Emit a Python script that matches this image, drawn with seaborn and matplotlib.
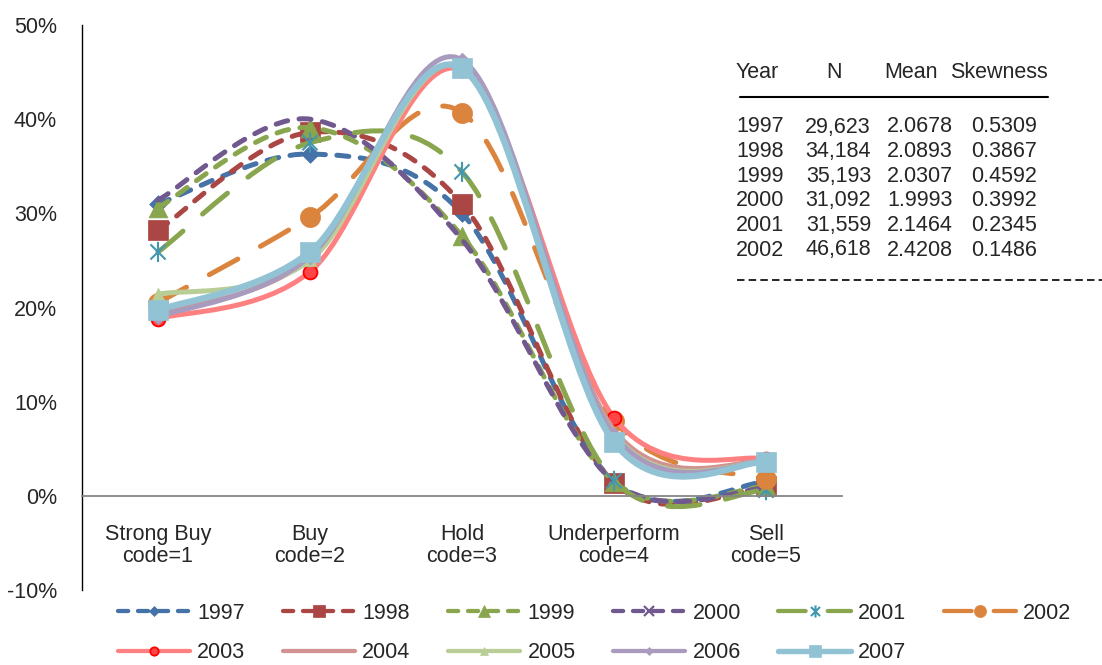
import numpy as np
import pandas as pd
import matplotlib.pyplot as plt
import seaborn as sns
from matplotlib.path import Path
from matplotlib.patches import PathPatch
from matplotlib.lines import Line2D

# categories on the x axis
categories = ["Strong Buy\ncode=1", "Buy\ncode=2", "Hold\ncode=3",
              "Underperform\ncode=4", "Sell\ncode=5"]

# share of recommendations per year (%)
years = ["1997", "1998", "1999", "2000", "2001", "2002",
         "2003", "2004", "2005", "2006", "2007"]
v1997 = [31.0, 36.3, 30.0, 1.5, 1.5]
v1998 = [28.2, 38.6, 31.0, 1.4, 1.0]
v1999 = [30.6, 39.1, 27.6, 1.5, 1.0]
v2000 = [31.4, 40.0, 27.2, 1.5, 0.8]
v2001 = [25.9, 37.5, 34.4, 1.6, 0.6]
v2002 = [20.5, 29.6, 40.7, 8.0, 1.8]
v2003 = [18.8, 23.8, 45.2, 8.3, 3.9]
v2004 = [19.3, 25.2, 45.4, 7.0, 3.6]
v2005 = [21.4, 25.0, 45.5, 6.6, 3.5]
v2006 = [19.0, 25.4, 46.3, 6.5, 3.5]
v2007 = [19.7, 25.9, 45.4, 5.7, 3.6]
values = [v1997, v1998, v1999, v2000, v2001, v2002,
          v2003, v2004, v2005, v2006, v2007]

# summary table (text box)
tab_years = ["1997", "1998", "1999", "2000", "2001", "2002"]
tab_n = ["29,623", "34,184", "35,193", "31,092", "31,559", "46,618"]
tab_mean = ["2.0678", "2.0893", "2.0307", "1.9993", "2.1464", "2.4208"]
tab_skew = ["0.5309", "0.3867", "0.4592", "0.3992", "0.2345", "0.1486"]

sns.set_style("white")
plt.rcParams['font.family'] = ['Liberation Sans', 'DejaVu Sans']
FS = 15.5
plt.rcParams['font.size'] = FS

W, H = 1102, 665

# asterisk marker (x plus vertical bar)
ast = Path([(0, -1), (0, 1), (-0.75, -0.75), (0.75, 0.75), (-0.75, 0.75), (0.75, -0.75)],
           [Path.MOVETO, Path.LINETO, Path.MOVETO, Path.LINETO, Path.MOVETO, Path.LINETO])

short = (2.4, 2.3)
long_ = (6.5, 5.2)
styles = {
    "1997": dict(color="#4572A7", lw=3.6, dash=short, marker="D", ms=9, mfc="#4572A7", mec="#4572A7", mew=0.5),
    "1998": dict(color="#AA4643", lw=3.6, dash=short, marker="s", ms=15, mfc="#AA4643", mec="#AA4643", mew=0.5),
    "1999": dict(color="#89A54E", lw=3.6, dash=short, marker="^", ms=13.5, mfc="#89A54E", mec="#89A54E", mew=0.5),
    "2000": dict(color="#71588F", lw=3.6, dash=short, marker="x", ms=12.5, mfc="none", mec="#71588F", mew=1.6),
    "2001": dict(color="#89A54E", lw=3.6, dash=long_, marker=ast, ms=14.5, mfc="none", mec="#4198AF", mew=1.5),
    "2002": dict(color="#DB843D", lw=3.6, dash=long_, marker="o", ms=14.5, mfc="#DB843D", mec="#DB843D", mew=0.5),
    "2003": dict(color="#FF8080", lw=3.6, dash=None, marker="o", ms=10, mfc="#FF4545", mec="#FF0000", mew=1.3),
    "2004": dict(color="#D19392", lw=3.6, dash=None, marker=None, ms=0, mfc="none", mec="none", mew=0),
    "2005": dict(color="#B9CD96", lw=3.6, dash=None, marker="^", ms=9, mfc="#B9CD96", mec="#B9CD96", mew=0.5),
    "2006": dict(color="#A99BBD", lw=3.6, dash=None, marker="D", ms=7.5, mfc="#A99BBD", mec="#A99BBD", mew=0.5),
    "2007": dict(color="#92C3D5", lw=4.6, dash=None, marker="s", ms=15, mfc="#92C3D5", mec="#92C3D5", mew=0.5),
}


def smooth_path(xs, ys):
    # Excel style smoothed line: cubic Bezier through the points
    pts = np.column_stack([xs, ys]).astype(float)
    n = len(pts)
    verts = [pts[0]]
    codes = [Path.MOVETO]
    for i in range(n - 1):
        p0 = pts[max(i - 1, 0)]
        p1 = pts[i]
        p2 = pts[i + 1]
        p3 = pts[min(i + 2, n - 1)]
        verts += [p1 + (p2 - p0) / 6, p2 - (p3 - p1) / 6, p2]
        codes += [Path.CURVE4] * 3
    return Path(verts, codes)


fig = plt.figure(figsize=(W / 100, H / 100), dpi=100)
ax = fig.add_axes([82 / W, 1 - 590 / H, (842 - 82) / W, (590 - 25) / H])

xpos = np.arange(len(categories))
for i, (yr, vals) in enumerate(zip(years, values)):
    st = styles[yr]
    ls = "solid" if st["dash"] is None else (0, st["dash"])
    patch = PathPatch(smooth_path(xpos, vals), fill=False, edgecolor=st["color"],
                      linewidth=st["lw"], linestyle=ls, capstyle="round",
                      joinstyle="round", zorder=2 + i * 0.1)
    ax.add_patch(patch)
    if st["marker"] is not None:
        df = pd.DataFrame({"x": xpos, "y": vals})
        sns.scatterplot(data=df, x="x", y="y", marker=st["marker"], s=st["ms"] ** 2,
                        color=st["mfc"] if st["mfc"] != "none" else st["mec"],
                        facecolor=st["mfc"], edgecolor=st["mec"], linewidth=st["mew"],
                        ax=ax, zorder=2.05 + i * 0.1, legend=False)

ax.set_xlim(-0.5, 4.5)
ax.set_ylim(-10, 50)
ax.set_xlabel("")
ax.set_ylabel("")

# axes styling
for side in ["top", "right"]:
    ax.spines[side].set_visible(False)
ax.spines["left"].set_color("black")
ax.spines["left"].set_linewidth(1.0)
ax.spines["bottom"].set_position(("data", 0))
ax.spines["bottom"].set_color("#868686")
ax.spines["bottom"].set_linewidth(1.3)

ax.set_yticks(np.arange(-10, 51, 10))
ax.set_yticklabels([f"{t}%" for t in range(-10, 51, 10)])
ax.tick_params(axis="y", direction="out", length=4, width=1, color="black", pad=14, labelsize=FS)

ax.set_xticks(np.arange(-0.5, 5, 1))
ax.set_xticklabels([])
ax.set_xticks(xpos, minor=True)
ax.set_xticklabels(categories, minor=True, linespacing=1.1)
ax.tick_params(axis="x", which="major", direction="out", length=4, width=1.3, color="#868686")
ax.tick_params(axis="x", which="minor", length=0, pad=20, labelsize=FS)

# legend (column-first order so rows read 1997..2002 / 2003..2007)
order = ["1997", "2003", "1998", "2004", "1999", "2005", "2000", "2006", "2001", "2007", "2002"]
handles = []
for yr in order:
    st = styles[yr]
    ls = "solid" if st["dash"] is None else (0, st["dash"])
    handles.append(Line2D([], [], color=st["color"], lw=st["lw"] * 0.85, linestyle=ls,
                          dash_capstyle="round", solid_capstyle="round",
                          marker=st["marker"], markersize=st["ms"] * 0.6,
                          markerfacecolor=st["mfc"], markeredgecolor=st["mec"],
                          markeredgewidth=st["mew"]))
fig.legend(handles, order, ncol=6, loc="upper left",
           bbox_to_anchor=(118 / W, 1 - 603 / H), bbox_transform=fig.transFigure,
           frameon=False, borderpad=0, borderaxespad=0, handlelength=3.35,
           handletextpad=0.33, columnspacing=1.75, labelspacing=0.85, fontsize=FS)

# summary table at the right
def fx(px):
    return px / W


def fy(py):
    return 1 - py / H


fig.text(fx(736), fy(72), "Year", ha="left", va="center", fontsize=FS)
fig.text(fx(834), fy(72), "N", ha="center", va="center", fontsize=FS)
fig.text(fx(884), fy(72), "Mean", ha="left", va="center", fontsize=FS)
fig.text(fx(950), fy(72), "Skewness", ha="left", va="center", fontsize=FS)
fig.add_artist(Line2D([fx(740), fx(1048)], [fy(97), fy(97)], color="black", lw=1.5))
for k in range(len(tab_years)):
    yy = fy(127 + k * 24.6)
    fig.text(fx(736), yy, tab_years[k], ha="left", va="center", fontsize=FS)
    fig.text(fx(871), yy, tab_n[k], ha="right", va="center", fontsize=FS)
    fig.text(fx(953), yy, tab_mean[k], ha="right", va="center", fontsize=FS)
    fig.text(fx(1037), yy, tab_skew[k], ha="right", va="center", fontsize=FS)
fig.add_artist(Line2D([fx(737), fx(1102)], [fy(280), fy(280)], color="black", lw=1.2,
                      linestyle=(0, (4.5, 2.5))))

fig.savefig("out.png", dpi=100)
